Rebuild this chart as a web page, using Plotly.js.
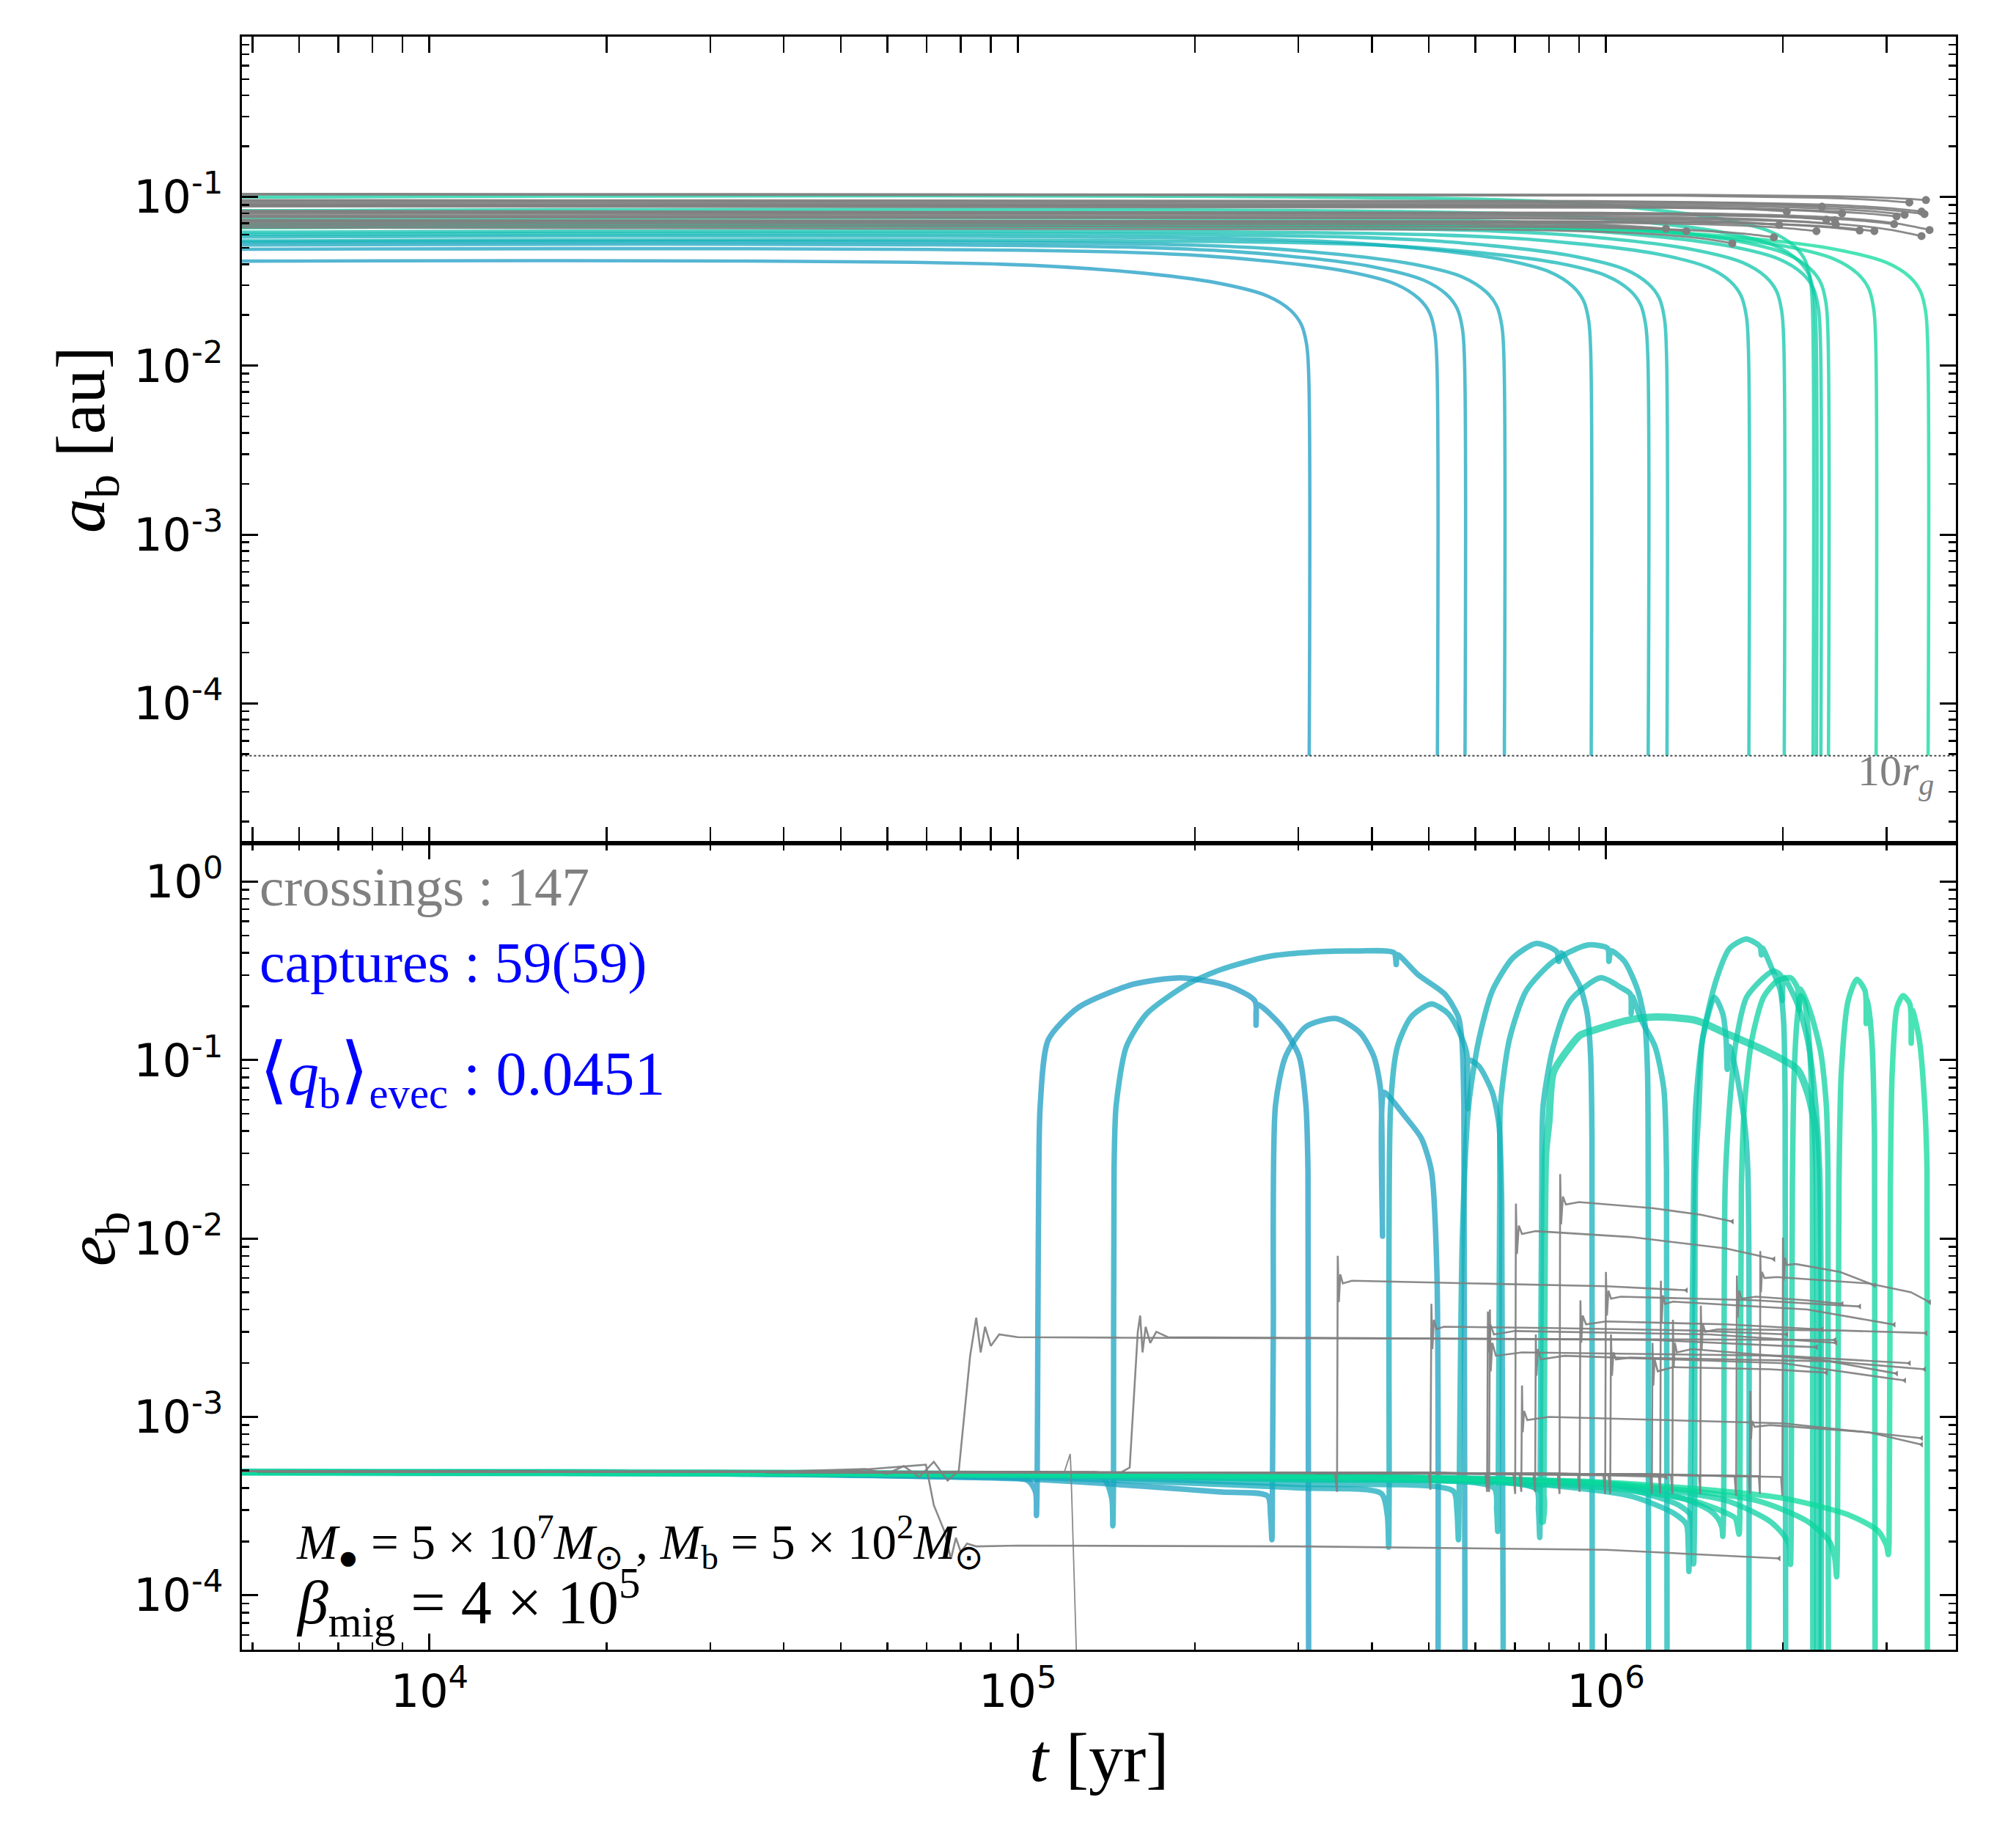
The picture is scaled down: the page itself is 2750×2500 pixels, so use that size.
<!DOCTYPE html>
<html><head><meta charset="utf-8">
<script src="https://cdn.plot.ly/plotly-3.0.1.min.js"></script>
<style>body{margin:0;background:#fff}</style>
</head><body>
<div id="chart" style="width:2750px;height:2500px"></div>
<script>
// ---------- tick labels ----------
const xTickVals = [1e4, 1e5, 1e6];
const xTickText = ['10<sup>4</sup>', '10<sup>5</sup>', '10<sup>6</sup>'];
const yTopTickVals = [1e-4, 1e-3, 1e-2, 1e-1];
const yTopTickText = ['10<sup>-4</sup>', '10<sup>-3</sup>', '10<sup>-2</sup>', '10<sup>-1</sup>'];
const yBotTickVals = [1e-4, 1e-3, 1e-2, 1e-1, 1];
const yBotTickText = ['10<sup>-4</sup>', '10<sup>-3</sup>', '10<sup>-2</sup>', '10<sup>-1</sup>', '10<sup>0</sup>'];

// ---------- captured binaries (teal): top panel a_b(t) ----------
const tA01 = [4800, 9.39e4, 1.565e5, 2.191e5, 2.66e5, 2.911e5, 3.036e5, 3.099e5, 3.124e5, 3.13e5];
const aA01 = [0.0417, 0.0400, 0.0359, 0.0309, 0.0259, 0.0213, 0.0175, 0.0133, 0.0088, 4.9e-5];
const tA02 = [4800, 1.551e5, 2.585e5, 3.619e5, 4.395e5, 4.808e5, 5.015e5, 5.118e5, 5.16e5, 5.17e5];
const aA02 = [0.049, 0.0470, 0.0421, 0.0363, 0.0304, 0.0250, 0.0206, 0.0157, 0.0103, 4.9e-5];
const tA03 = [4800, 1.728e5, 2.88e5, 4.032e5, 4.896e5, 5.357e5, 5.587e5, 5.702e5, 5.748e5, 5.76e5];
const aA03 = [0.052, 0.0499, 0.0447, 0.0385, 0.0322, 0.0265, 0.0218, 0.0166, 0.0109, 4.9e-5];
const tA04 = [4800, 2.016e5, 3.36e5, 4.704e5, 5.712e5, 6.25e5, 6.518e5, 6.653e5, 6.707e5, 6.72e5];
const aA04 = [0.054, 0.0518, 0.0464, 0.0400, 0.0335, 0.0275, 0.0227, 0.0173, 0.0113, 4.9e-5];
const tA05 = [4800, 2.832e5, 4.72e5, 6.608e5, 8.024e5, 8.779e5, 9.157e5, 9.346e5, 9.421e5, 9.44e5];
const aA05 = [0.058, 0.0557, 0.0499, 0.0429, 0.0360, 0.0296, 0.0244, 0.0186, 0.0122, 4.9e-5];
const tA06 = [4800, 3.54e5, 5.9e5, 8.26e5, 1.003e6, 1.097e6, 1.145e6, 1.168e6, 1.178e6, 1.18e6];
const aA06 = [0.055, 0.0528, 0.0473, 0.0407, 0.0341, 0.0281, 0.0231, 0.0176, 0.0116, 4.9e-5];
const tA07 = [4800, 3.81e5, 6.35e5, 8.89e5, 1.0795e6, 1.181e6, 1.232e6, 1.257e6, 1.267e6, 1.27e6];
const aA07 = [0.060, 0.0576, 0.0516, 0.0444, 0.0372, 0.0306, 0.0252, 0.0192, 0.0126, 4.9e-5];
const tA08 = [4800, 5.25e5, 8.75e5, 1.225e6, 1.4875e6, 1.6275e6, 1.6975e6, 1.7325e6, 1.7465e6, 1.75e6];
const aA08 = [0.062, 0.0595, 0.0533, 0.0459, 0.0384, 0.0316, 0.0260, 0.0198, 0.0130, 4.9e-5];
const tA09 = [4800, 6.03e5, 1.005e6, 1.407e6, 1.7085e6, 1.869e6, 1.95e6, 1.99e6, 2.006e6, 2.01e6];
const aA09 = [0.066, 0.0634, 0.0568, 0.0488, 0.0409, 0.0337, 0.0277, 0.0211, 0.0139, 4.9e-5];
const tA10 = [4800, 6.75e5, 1.125e6, 1.575e6, 1.9125e6, 2.0925e6, 2.1825e6, 2.2275e6, 2.2455e6, 2.25e6];
const aA10 = [0.100, 0.096, 0.086, 0.074, 0.062, 0.051, 0.042, 0.032, 0.021, 4.9e-5];
const tA11 = [4800, 6.84e5, 1.14e6, 1.596e6, 1.938e6, 2.12e6, 2.212e6, 2.257e6, 2.275e6, 2.28e6];
const aA11 = [0.083, 0.0797, 0.0714, 0.0614, 0.0515, 0.0423, 0.0349, 0.0266, 0.0174, 4.9e-5];
const tA12 = [4800, 6.96e5, 1.16e6, 1.624e6, 1.972e6, 2.158e6, 2.25e6, 2.297e6, 2.315e6, 2.32e6];
const aA12 = [0.069, 0.0662, 0.0593, 0.0511, 0.0428, 0.0352, 0.0290, 0.0221, 0.0145, 4.9e-5];
const tA13 = [4800, 7.17e5, 1.195e6, 1.673e6, 2.0315e6, 2.223e6, 2.318e6, 2.366e6, 2.385e6, 2.39e6];
const aA13 = [0.074, 0.0710, 0.0636, 0.0548, 0.0459, 0.0377, 0.0311, 0.0237, 0.0155, 4.9e-5];
const tA14 = [4800, 8.64e5, 1.44e6, 2.016e6, 2.448e6, 2.678e6, 2.794e6, 2.851e6, 2.874e6, 2.88e6];
const aA14 = [0.069, 0.0662, 0.0593, 0.0511, 0.0428, 0.0352, 0.0290, 0.0221, 0.0145, 4.9e-5];
const tA15 = [4800, 1.059e6, 1.765e6, 2.471e6, 3.0005e6, 3.283e6, 3.424e6, 3.495e6, 3.523e6, 3.53e6];
const aA15 = [0.066, 0.0634, 0.0568, 0.0488, 0.0409, 0.0337, 0.0277, 0.0211, 0.0139, 4.9e-5];

// ---------- captured binaries (teal): bottom panel e_b(t) ----------
const tE01 = [4800, 3e4, 8e4, 1.04e5, 1.072e5, 1.076e5, 1.079e5, 1.082e5, 1.086e5, 1.092e5, 1.127e5, 1.27e5, 1.571e5, 1.892e5, 2.278e5, 2.53e5, 2.542e5, 2.555e5, 2.816e5, 3.009e5, 3.09e5, 3.115e5, 3.125e5];
const eE01 = [4.9e-4, 4.85e-4, 4.6e-4, 4.4e-4, 3.8e-4, 2.8e-4, 4.4e-4, 0.003, 0.024, 0.0557, 0.130, 0.198, 0.266, 0.289, 0.261, 0.215, 0.157, 0.205, 0.1536, 0.105, 0.0557, 0.024, 1e-5];
const tE02 = [4800, 3e4, 1e5, 2.2e5, 2.66e5, 2.69e5, 2.705e5, 2.71e5, 2.72e5, 2.743e5, 2.854e5, 3.09e5, 3.482e5, 3.822e5, 4.03e5, 4.138e5, 4.171e5, 4.193e5, 4.305e5, 4.54e5, 4.852e5, 5.05e5, 5.158e5, 5.18e5];
const eE02 = [4.9e-4, 4.8e-4, 4.5e-4, 3.8e-4, 3.6e-4, 2.8e-4, 2.05e-4, 3.6e-4, 0.003, 0.0557, 0.105, 0.154, 0.171, 0.142, 0.105, 0.069, 0.0103, 0.066, 0.061, 0.049, 0.0366, 0.024, 0.0068, 1e-5];
const tE03 = [4800, 3e4, 1e5, 1.4e5, 1.445e5, 1.451e5, 1.455e5, 1.458e5, 1.47e5, 1.53e5, 1.657e5, 1.943e5, 2.218e5, 2.671e5, 3.302e5, 3.771e5, 4.363e5, 4.4e5, 4.421e5, 4.788e5, 5.325e5, 5.613e5, 5.689e5, 5.735e5, 5.766e5];
const eE03 = [4.9e-4, 4.85e-4, 4.7e-4, 4.5e-4, 3.5e-4, 2.45e-4, 4.5e-4, 0.024, 0.0557, 0.119, 0.182, 0.266, 0.322, 0.381, 0.406, 0.409, 0.40, 0.343, 0.39, 0.302, 0.234, 0.174, 0.13, 0.0557, 1e-5];
const tE04 = [4800, 3e4, 1e5, 3e5, 4.15e5, 4.25e5, 4.272e5, 4.28e5, 4.305e5, 4.421e5, 4.663e5, 5.05e5, 5.395e5, 5.613e5, 5.797e5, 5.82e5, 5.843e5, 6.079e5, 6.41e5, 6.58e5, 6.65e5, 6.7e5];
const eE04 = [4.9e-4, 4.8e-4, 4.6e-4, 4.0e-4, 3.72e-4, 2.8e-4, 1.86e-4, 3.7e-4, 0.0557, 0.119, 0.1744, 0.2065, 0.182, 0.147, 0.1096, 0.0535, 0.1, 0.0926, 0.066, 0.0433, 0.0157, 1e-5];
const tE05 = [4800, 3e4, 1e5, 3e5, 5.5e5, 5.58e5, 5.613e5, 5.63e5, 5.7e5, 5.843e5, 6.079e5, 6.41e5, 6.942e5, 7.616e5, 8.248e5, 8.314e5, 8.4e5, 8.696e5, 9.05e5, 9.294e5, 9.419e5, 9.469e5, 9.48e5];
const eE05 = [4.9e-4, 4.85e-4, 4.7e-4, 4.2e-4, 3.84e-4, 3.0e-4, 2.05e-4, 3.8e-4, 0.01, 0.0558, 0.1297, 0.2445, 0.373, 0.4511, 0.4059, 0.3576, 0.40, 0.3287, 0.255, 0.182, 0.1051, 0.0366, 1e-5];
const tE06 = [4800, 3e4, 1e5, 3e5, 6.45e5, 6.52e5, 6.548e5, 6.56e5, 6.6e5, 6.618e5, 6.851e5, 7.318e5, 8.139e5, 9.294e5, 1.0065e6, 1.0118e6, 1.02e6, 1.0755e6, 1.1337e6, 1.1648e6, 1.177e6, 1.18e6, 1.182e6];
const eE06 = [4.9e-4, 4.85e-4, 4.75e-4, 4.45e-4, 4.0e-4, 3.0e-4, 2.28e-4, 4.0e-4, 0.02, 0.0558, 0.1297, 0.2445, 0.3576, 0.4416, 0.4231, 0.3576, 0.41, 0.3576, 0.2445, 0.1603, 0.0851, 0.024, 1e-5];
const tE07 = [4800, 3e4, 1e5, 3e5, 7.6e5, 7.68e5, 7.718e5, 7.73e5, 7.78e5, 7.821e5, 8.139e5, 8.696e5, 9.8e5, 1.061e6, 1.1e6, 1.104e6, 1.108e6, 1.1489e6, 1.2118e6, 1.2544e6, 1.2677e6, 1.271e6];
const eE07 = [4.9e-4, 4.85e-4, 4.75e-4, 4.5e-4, 3.96e-4, 3.0e-4, 2.11e-4, 3.9e-4, 0.02, 0.0558, 0.1193, 0.2154, 0.2894, 0.255, 0.235, 0.182, 0.228, 0.1672, 0.1193, 0.0689, 0.024, 1e-5];
const tE08 = [4800, 3e4, 1e5, 3e5, 7e5, 1.1e6, 1.3e6, 1.37e6, 1.38e6, 1.384e6, 1.39e6, 1.41e6, 1.421e6, 1.459e6, 1.53e6, 1.58e6, 1.601e6, 1.608e6, 1.623e6, 1.666e6, 1.72e6, 1.743e6, 1.748e6];
const eE08 = [4.9e-4, 4.85e-4, 4.75e-4, 4.6e-4, 4.3e-4, 3.6e-4, 2.9e-4, 2.5e-4, 1.9e-4, 1.36e-4, 2.8e-4, 0.02, 0.0558, 0.1297, 0.2247, 0.182, 0.1297, 0.0887, 0.1193, 0.0851, 0.0452, 0.024, 1e-5];
const tE09 = [4800, 3e4, 1e5, 3e5, 7e5, 1.1e6, 1.33e6, 1.395e6, 1.405e6, 1.41e6, 1.415e6, 1.421e6, 1.44e6, 1.459e6, 1.538e6, 1.623e6, 1.734e6, 1.828e6, 1.838e6, 1.845e6, 1.913e6, 1.98e6, 2.006e6, 2.017e6, 2.022e6];
const eE09 = [4.9e-4, 4.85e-4, 4.75e-4, 4.65e-4, 4.45e-4, 3.9e-4, 3.2e-4, 2.8e-4, 2.1e-4, 1.5e-4, 2.9e-4, 0.024, 0.0558, 0.1297, 0.2775, 0.4231, 0.4766, 0.4324, 0.389, 0.425, 0.3287, 0.2445, 0.1603, 0.0558, 1e-5];
const tE10 = [4800, 3e4, 1e5, 3e5, 1e6, 1.6e6, 1.9e6, 2.0e6, 2.05e6, 2.06e6, 2.065e6, 2.075e6, 2.09e6, 2.116e6, 2.144e6, 2.173e6, 2.202e6, 2.231e6, 2.245e6, 2.249e6];
const eE10 = [4.9e-4, 4.85e-4, 4.75e-4, 4.6e-4, 4.2e-4, 3.4e-4, 2.6e-4, 2.2e-4, 1.9e-4, 1.49e-4, 2.2e-4, 0.02, 0.0851, 0.1744, 0.2295, 0.2154, 0.1603, 0.0851, 0.024, 1e-5];
const tE11 = [4800, 3e4, 1e5, 3e5, 7.75e5, 7.8e5, 7.82e5, 7.85e5, 7.9e5, 8.0e5, 8.139e5, 8.696e5, 9.05e5, 9.544e5, 1.0897e6, 1.2118e6, 1.421e6, 1.623e6, 1.853e6, 2.116e6, 2.202e6, 2.261e6, 2.285e6, 2.291e6];
const eE11 = [4.9e-4, 4.85e-4, 4.75e-4, 4.5e-4, 3.9e-4, 2.6e-4, 3.9e-4, 0.005, 0.03, 0.0452, 0.0851, 0.1193, 0.1382, 0.1473, 0.1672, 0.1744, 0.1672, 0.1382, 0.1143, 0.0887, 0.066, 0.0452, 0.024, 1e-5];
const tE12 = [4800, 3e4, 1e5, 3e5, 1e6, 1.35e6, 1.5e6, 1.55e6, 1.575e6, 1.58e6, 1.585e6, 1.595e6, 1.623e6, 1.666e6, 1.734e6, 1.853e6, 1.928e6, 1.98e6, 1.995e6, 2.006e6, 2.116e6, 2.202e6, 2.261e6, 2.309e6, 2.321e6];
const eE12 = [4.9e-4, 4.85e-4, 4.75e-4, 4.65e-4, 4.2e-4, 3.5e-4, 3.0e-4, 2.7e-4, 2.4e-4, 2.14e-4, 2.8e-4, 0.02, 0.0558, 0.1297, 0.2247, 0.2894, 0.315, 0.30, 0.2154, 0.29, 0.2065, 0.1297, 0.0689, 0.024, 1e-5];
const tE13 = [4800, 3e4, 1e5, 3e5, 1e6, 1.4e6, 1.6e6, 1.66e6, 1.684e6, 1.689e6, 1.7e6, 1.72e6, 1.77e6, 1.853e6, 1.954e6, 2.06e6, 2.116e6, 2.13e6, 2.144e6, 2.231e6, 2.32e6, 2.37e6, 2.385e6, 2.39e6];
const eE13 = [4.9e-4, 4.85e-4, 4.75e-4, 4.6e-4, 4.0e-4, 3.4e-4, 2.9e-4, 2.7e-4, 2.2e-4, 2.7e-4, 0.02, 0.0558, 0.1297, 0.2247, 0.2775, 0.2894, 0.255, 0.19, 0.25, 0.182, 0.1096, 0.0558, 0.024, 1e-5];
const tE14 = [4800, 3e4, 1e5, 3e5, 1e6, 1.8e6, 2.2e6, 2.4e6, 2.45e6, 2.467e6, 2.475e6, 2.49e6, 2.513e6, 2.581e6, 2.671e6, 2.758e6, 2.77e6, 2.785e6, 2.832e6, 2.862e6, 2.87e6];
const eE14 = [4.9e-4, 4.85e-4, 4.75e-4, 4.65e-4, 4.25e-4, 3.4e-4, 2.6e-4, 2.0e-4, 1.6e-4, 1.27e-4, 1.9e-4, 0.02, 0.085, 0.2154, 0.2835, 0.2445, 0.1603, 0.22, 0.1297, 0.0366, 1e-5];
const tE15 = [4800, 3e4, 1e5, 3e5, 1e6, 2e6, 2.6e6, 2.9e6, 3.0e6, 3.02e6, 3.03e6, 3.045e6, 3.067e6, 3.125e6, 3.2e6, 3.286e6, 3.304e6, 3.32e6, 3.411e6, 3.484e6, 3.515e6, 3.521e6];
const eE15 = [4.9e-4, 4.85e-4, 4.75e-4, 4.65e-4, 4.3e-4, 3.5e-4, 2.8e-4, 2.3e-4, 1.9e-4, 1.69e-4, 2.0e-4, 0.02, 0.0851, 0.198, 0.2295, 0.2065, 0.1244, 0.19, 0.1297, 0.0558, 0.024, 1e-5];

const tealColors = [
  'rgba(25,155,195,0.74)', 'rgba(24,160,193,0.74)', 'rgba(22,165,190,0.74)', 'rgba(20,170,188,0.74)',
  'rgba(18,176,185,0.74)', 'rgba(16,181,182,0.74)', 'rgba(15,185,180,0.74)', 'rgba(14,192,175,0.74)',
  'rgba(12,197,170,0.74)', 'rgba(10,208,162,0.74)', 'rgba(11,205,164,0.74)', 'rgba(11,203,166,0.74)',
  'rgba(10,209,161,0.74)', 'rgba(10,212,158,0.74)', 'rgba(10,218,155,0.74)'
];

// ---------- non-captured crossings (gray): top panel a_b(t) ----------
const gtA01 = [4800, 5.06e5, 8.86e5, 1.113e6, 1.265e6]; const gaA01 = [0.072, 0.0709, 0.0692, 0.0670, 0.0649];
const gtA02 = [4800, 5.48e5, 9.59e5, 1.206e6, 1.37e6];  const gaA02 = [0.070, 0.0689, 0.0671, 0.0650, 0.0628];
const gtA03 = [4800, 6.56e5, 1.148e6, 1.443e6, 1.64e6]; const gaA03 = [0.066, 0.0641, 0.0608, 0.0570, 0.0531];
const gtA04 = [4800, 7.72e5, 1.351e6, 1.698e6, 1.93e6]; const gaA04 = [0.068, 0.0665, 0.0639, 0.0609, 0.0578];
const gtA05 = [4800, 7.88e5, 1.379e6, 1.734e6, 1.97e6]; const gaA05 = [0.076, 0.0748, 0.0729, 0.0706, 0.0683];
const gtA06 = [4800, 8.12e5, 1.421e6, 1.786e6, 2.03e6]; const gaA06 = [0.090, 0.0888, 0.0868, 0.0844, 0.082];
const gtA07 = [4800, 9.12e5, 1.596e6, 2.006e6, 2.28e6]; const gaA07 = [0.072, 0.0706, 0.0683, 0.0656, 0.0628];
const gtA08 = [4800, 9.32e5, 1.631e6, 2.05e6, 2.33e6];  const gaA08 = [0.096, 0.0948, 0.0927, 0.0902, 0.0877];
const gtA09 = [4800, 9.48e5, 1.659e6, 2.086e6, 2.37e6]; const gaA09 = [0.081, 0.0799, 0.078, 0.0758, 0.0735];
const gtA10 = [4800, 9.8e5, 1.715e6, 2.156e6, 2.45e6];  const gaA10 = [0.082, 0.0807, 0.0784, 0.0757, 0.073];
const gtA11 = [4800, 9.84e5, 1.722e6, 2.165e6, 2.46e6]; const gaA11 = [0.078, 0.0766, 0.0743, 0.0715, 0.0687];
const gtA12 = [4800, 1.008e6, 1.764e6, 2.218e6, 2.52e6]; const gaA12 = [0.089, 0.0877, 0.0854, 0.0827, 0.080];
const gtA13 = [4800, 1.08e6, 1.89e6, 2.376e6, 2.70e6];  const gaA13 = [0.073, 0.0716, 0.0692, 0.0663, 0.0634];
const gtA14 = [4800, 1.144e6, 2.002e6, 2.517e6, 2.86e6]; const gaA14 = [0.073, 0.0715, 0.0689, 0.0659, 0.0628];
const gtA15 = [4800, 1.236e6, 2.163e6, 2.719e6, 3.09e6]; const gaA15 = [0.080, 0.0784, 0.0757, 0.0724, 0.0692];
const gtA16 = [4800, 1.248e6, 2.184e6, 2.746e6, 3.12e6]; const gaA16 = [0.088, 0.0863, 0.0835, 0.0801, 0.0767];
const gtA17 = [4800, 1.288e6, 2.254e6, 2.834e6, 3.22e6]; const gaA17 = [0.091, 0.0891, 0.086, 0.0823, 0.0785];
const gtA18 = [4800, 1.312e6, 2.296e6, 2.886e6, 3.28e6]; const gaA18 = [0.1035, 0.1019, 0.0992, 0.096, 0.0928];
const gtA19 = [4800, 1.376e6, 2.408e6, 3.027e6, 3.44e6]; const gaA19 = [0.095, 0.093, 0.0898, 0.0859, 0.082];
const gtA20 = [4800, 1.392e6, 2.436e6, 3.062e6, 3.48e6]; const gaA20 = [0.093, 0.0909, 0.0875, 0.0834, 0.0793];
const gtA21 = [4800, 1.4e6, 2.45e6, 3.08e6, 3.50e6];    const gaA21 = [0.1045, 0.1032, 0.1011, 0.0986, 0.096];
const gtA22 = [4800, 1.376e6, 2.408e6, 3.027e6, 3.44e6]; const gaA22 = [0.077, 0.0743, 0.0697, 0.0642, 0.0587];
const gtA23 = [4800, 1.42e6, 2.485e6, 3.124e6, 3.55e6]; const gaA23 = [0.083, 0.0801, 0.0753, 0.0696, 0.0638];

// ---------- non-captured crossings (gray): bottom panel e_b(t) ----------
const gtE01 = [4800, 1e5, 5e5, 1e6, 1.265e6];
const geE01 = [4.95e-4, 4.9e-4, 4.8e-4, 4.7e-4, 4.6e-4];
const gtE02 = [4800, 1e5, 3.46e5, 3.49e5, 3.5e5, 3.515e5, 3.535e5, 3.57e5, 3.7e5, 6e5, 1e6, 1.37e6];
const geE02 = [4.95e-4, 4.9e-4, 4.85e-4, 3.8e-4, 0.008, 0.0044, 0.0063, 0.0056, 0.0058, 0.0056, 0.0054, 0.00513];
const gtE03 = [4800, 1e5, 5e5, 8.28e5, 8.34e5, 8.36e5, 8.39e5, 8.45e5, 8.55e5, 9e5, 1.2e6, 1.45e6, 1.64e6];
const geE03 = [4.95e-4, 4.9e-4, 4.85e-4, 4.8e-4, 3.7e-4, 0.023, 0.012, 0.0172, 0.0155, 0.016, 0.0148, 0.0136, 0.01245];
const gtE04 = [4800, 1e5, 5e5, 6.96e5, 7.01e5, 7.03e5, 7.06e5, 7.11e5, 7.2e5, 7.6e5, 1.1e6, 1.6e6, 1.93e6];
const geE04 = [4.95e-4, 4.9e-4, 4.85e-4, 4.8e-4, 3.7e-4, 0.0157, 0.0082, 0.0118, 0.0106, 0.011, 0.0102, 0.0088, 0.00766];
const gtE05 = [4800, 5e4, 6.98e4, 7.2e4, 7.5e4, 7.7e4, 7.85e4, 8e4, 8.2e4, 8.5e4, 1e5, 3e5, 1e6, 1.97e6];
const geE05 = [4.95e-4, 4.95e-4, 5.4e-4, 3.2e-4, 2.3e-4, 1.6e-4, 2.1e-4, 1.75e-4, 1.95e-4, 1.88e-4, 1.9e-4, 1.88e-4, 1.8e-4, 1.61e-4];
const gtE06 = [4800, 1e5, 5e5, 5.03e5, 5.05e5, 5.07e5, 5.1e5, 5.15e5, 5.3e5, 8e5, 1.4e6, 2.03e6];
const geE06 = [4.95e-4, 4.9e-4, 4.85e-4, 3.9e-4, 0.0043, 0.0024, 0.0035, 0.0031, 0.0032, 0.00315, 0.00305, 0.0029];
const gtE07 = [4800, 1e5, 1.5e5, 1.55e5, 1.575e5, 1.6e5, 1.615e5, 1.63e5, 1.65e5, 1.68e5, 1.72e5, 1.8e5, 5e5, 1.2e6, 2e6, 2.28e6];
const geE07 = [4.95e-4, 4.9e-4, 4.9e-4, 5.2e-4, 0.0012, 0.003, 0.0037, 0.0023, 0.0032, 0.0026, 0.003, 0.0028, 0.00275, 0.0027, 0.0025, 0.00246];
const gtE08 = [4800, 1e5, 5e5, 8.96e5, 9.02e5, 9.05e5, 9.08e5, 9.13e5, 9.25e5, 1e6, 1.6e6, 2.33e6];
const geE08 = [4.95e-4, 4.9e-4, 4.85e-4, 4.8e-4, 3.8e-4, 0.0045, 0.0026, 0.0037, 0.0033, 0.00343, 0.0033, 0.00309];
const gtE09 = [4800, 1e5, 5e5, 1.19e6, 1.197e6, 1.2e6, 1.204e6, 1.21e6, 1.225e6, 1.3e6, 1.9e6, 2.37e6];
const geE09 = [4.95e-4, 4.9e-4, 4.85e-4, 4.75e-4, 3.7e-4, 0.0026, 0.0015, 0.0021, 0.0018, 0.0019, 0.00185, 0.00177];
const gtE10 = [4800, 4e4, 5.5e4, 6e4, 6.4e4, 6.8e4, 7.2e4, 7.6e4, 7.94e4, 8.1e4, 8.3e4, 8.5e4, 8.65e4, 8.8e4, 9e4, 9.3e4, 1e5, 1.5e5, 5e5, 1.5e6, 2.45e6];
const geE10 = [4.95e-4, 4.95e-4, 5.1e-4, 4.8e-4, 5.3e-4, 4.6e-4, 5.6e-4, 4.4e-4, 5e-4, 0.001, 0.0022, 0.0036, 0.0023, 0.0032, 0.0025, 0.0029, 0.0028, 0.00278, 0.00275, 0.00272, 0.0027];
const gtE11 = [4800, 1e5, 5e5, 6.24e5, 6.28e5, 6.3e5, 6.32e5, 6.36e5, 6.45e5, 7e5, 1.5e6, 2.46e6];
const geE11 = [4.95e-4, 4.9e-4, 4.85e-4, 4.8e-4, 3.8e-4, 0.0039, 0.0023, 0.0033, 0.0029, 0.00303, 0.0029, 0.0026];
const gtE12 = [4800, 1e5, 5e5, 1.2e6, 1.655e6, 1.665e6, 1.67e6, 1.675e6, 1.685e6, 1.7e6, 1.8e6, 2.2e6, 2.52e6];
const geE12 = [4.95e-4, 4.9e-4, 4.85e-4, 4.75e-4, 4.65e-4, 3.6e-4, 0.0062, 0.0036, 0.0051, 0.0046, 0.00472, 0.0045, 0.0043];
const gtE13 = [4800, 1e5, 5e5, 9.9e5, 9.97e5, 1e6, 1.004e6, 1.01e6, 1.02e6, 1.06e6, 1.8e6, 2.7e6];
const geE13 = [4.95e-4, 4.9e-4, 4.85e-4, 4.75e-4, 3.7e-4, 0.0065, 0.0037, 0.0051, 0.0046, 0.00472, 0.0045, 0.00416];
const gtE14 = [4800, 1e5, 5e5, 1.2e6, 1.985e6, 1.995e6, 2.0e6, 2.006e6, 2.015e6, 2.03e6, 2.1e6, 2.5e6, 2.86e6];
const geE14 = [4.95e-4, 4.9e-4, 4.85e-4, 4.75e-4, 4.6e-4, 3.6e-4, 0.0101, 0.0058, 0.0078, 0.0071, 0.0072, 0.0065, 0.00547];
const gtE15 = [4800, 1e5, 5e5, 1.23e6, 1.237e6, 1.24e6, 1.244e6, 1.25e6, 1.26e6, 1.3e6, 2.2e6, 3.09e6];
const geE15 = [4.95e-4, 4.9e-4, 4.85e-4, 4.75e-4, 3.7e-4, 0.0058, 0.0034, 0.0048, 0.0043, 0.00443, 0.0040, 0.00329];
const gtE16 = [4800, 1e5, 5e5, 1.29e6, 1.297e6, 1.3e6, 1.304e6, 1.31e6, 1.32e6, 1.4e6, 2.3e6, 3.12e6];
const geE16 = [4.95e-4, 4.9e-4, 4.85e-4, 4.75e-4, 3.7e-4, 0.0035, 0.0019, 0.0026, 0.0023, 0.0024, 0.0021, 0.00175];
const gtE17 = [4800, 1e5, 5e5, 7.53e5, 7.58e5, 7.6e5, 7.62e5, 7.66e5, 7.75e5, 8.5e5, 2e6, 3.22e6];
const geE17 = [4.95e-4, 4.9e-4, 4.85e-4, 4.8e-4, 3.8e-4, 0.0029, 0.0017, 0.0024, 0.0021, 0.0022, 0.002, 0.0016];
const gtE18 = [4800, 1e5, 5e5, 6.29e5, 6.33e5, 6.35e5, 6.37e5, 6.41e5, 6.5e5, 7.2e5, 2e6, 3.28e6];
const geE18 = [4.95e-4, 4.9e-4, 4.85e-4, 4.8e-4, 3.8e-4, 0.004, 0.0018, 0.0026, 0.0022, 0.0023, 0.0022, 0.002];
const gtE19 = [4800, 1e5, 5e5, 7.13e5, 7.18e5, 7.2e5, 7.22e5, 7.26e5, 7.35e5, 8e5, 2e6, 3.44e6];
const geE19 = [4.95e-4, 4.9e-4, 4.85e-4, 4.8e-4, 3.8e-4, 0.0015, 8.2e-4, 0.00108, 9.6e-4, 0.001, 9.2e-4, 7.6e-4];
const gtE20 = [4800, 1e5, 5e5, 1.01e6, 1.017e6, 1.02e6, 1.024e6, 1.03e6, 1.04e6, 1.1e6, 2.4e6, 3.48e6];
const geE20 = [4.95e-4, 4.9e-4, 4.85e-4, 4.75e-4, 3.7e-4, 0.0029, 0.0017, 0.0023, 0.0021, 0.00215, 0.00205, 0.00185];
const gtE21 = [4800, 1e5, 5e5, 1.44e6, 1.447e6, 1.45e6, 1.455e6, 1.462e6, 1.475e6, 1.55e6, 2.5e6, 3.5e6];
const geE21 = [4.95e-4, 4.9e-4, 4.85e-4, 4.7e-4, 3.7e-4, 0.0042, 0.0024, 0.0033, 0.003, 0.0031, 0.00305, 0.00295];
const gtE22 = [4800, 1e5, 5e5, 1.2e6, 1.75e6, 1.757e6, 1.76e6, 1.765e6, 1.772e6, 1.79e6, 1.9e6, 2.8e6, 3.44e6];
const geE22 = [4.95e-4, 4.9e-4, 4.85e-4, 4.75e-4, 4.65e-4, 3.7e-4, 0.0014, 7.5e-4, 9.5e-4, 8.8e-4, 9e-4, 8.2e-4, 7.0e-4];
const gtE23 = [4800, 1e5, 5e5, 1.2e6, 1.82e6, 1.827e6, 1.83e6, 1.835e6, 1.842e6, 1.86e6, 1.95e6, 2.8e6, 3.3e6, 3.55e6];
const geE23 = [4.95e-4, 4.9e-4, 4.85e-4, 4.75e-4, 4.65e-4, 3.7e-4, 0.0085, 0.005, 0.0065, 0.006, 0.00608, 0.0056, 0.005, 0.0044];
// one crossing whose eccentricity collapses
const gtPlunge = [4800, 1e5, 1.2e5, 1.228e5, 1.232e5, 1.276e5];
const gePlunge = [4.95e-4, 4.9e-4, 4.9e-4, 6.2e-4, 4.9e-4, 1e-5];

// 10 r_g reference level
const rgLevelT = [3000, 5e6];
const rgLevelA = [4.9e-5, 4.9e-5];

// ---------- build traces ----------
const tealTop = [[tA01,aA01],[tA02,aA02],[tA03,aA03],[tA04,aA04],[tA05,aA05],[tA06,aA06],[tA07,aA07],[tA08,aA08],[tA09,aA09],[tA10,aA10],[tA11,aA11],[tA12,aA12],[tA13,aA13],[tA14,aA14],[tA15,aA15]];
const tealBot = [[tE01,eE01],[tE02,eE02],[tE03,eE03],[tE04,eE04],[tE05,eE05],[tE06,eE06],[tE07,eE07],[tE08,eE08],[tE09,eE09],[tE10,eE10],[tE11,eE11],[tE12,eE12],[tE13,eE13],[tE14,eE14],[tE15,eE15]];
const grayTop = [[gtA01,gaA01],[gtA02,gaA02],[gtA03,gaA03],[gtA04,gaA04],[gtA05,gaA05],[gtA06,gaA06],[gtA07,gaA07],[gtA08,gaA08],[gtA09,gaA09],[gtA10,gaA10],[gtA11,gaA11],[gtA12,gaA12],[gtA13,gaA13],[gtA14,gaA14],[gtA15,gaA15],[gtA16,gaA16],[gtA17,gaA17],[gtA18,gaA18],[gtA19,gaA19],[gtA20,gaA20],[gtA21,gaA21],[gtA22,gaA22],[gtA23,gaA23]];
const grayBot = [[gtE01,geE01],[gtE02,geE02],[gtE03,geE03],[gtE04,geE04],[gtE05,geE05],[gtE06,geE06],[gtE07,geE07],[gtE08,geE08],[gtE09,geE09],[gtE10,geE10],[gtE11,geE11],[gtE12,geE12],[gtE13,geE13],[gtE14,geE14],[gtE15,geE15],[gtE16,geE16],[gtE17,geE17],[gtE18,geE18],[gtE19,geE19],[gtE20,geE20],[gtE21,geE21],[gtE22,geE22],[gtE23,geE23]];

const GRAY = 'rgba(128,128,128,0.92)';
const traces = [];
tealTop.forEach((c, i) => traces.push({x: c[0], y: c[1], xaxis: 'x', yaxis: 'y', mode: 'lines',
  line: {color: tealColors[i], width: 4.6, shape: 'spline', smoothing: 1}, hoverinfo: 'skip'}));
tealBot.forEach((c, i) => traces.push({x: c[0], y: c[1], xaxis: 'x', yaxis: 'y2', mode: 'lines',
  line: {color: tealColors[i], width: (i === 10 ? 10 : 7.5), shape: 'spline', smoothing: 0.7}, hoverinfo: 'skip'}));
grayTop.forEach(c => traces.push({x: c[0], y: c[1], xaxis: 'x', yaxis: 'y', mode: 'lines',
  line: {color: GRAY, width: 2.8, shape: 'spline', smoothing: 0.8}, hoverinfo: 'skip'}));
traces.push({x: grayTop.map(c => c[0][c[0].length - 1]), y: grayTop.map(c => c[1][c[1].length - 1]),
  xaxis: 'x', yaxis: 'y', mode: 'markers', marker: {color: 'rgb(128,128,128)', size: 11}, hoverinfo: 'skip'});
grayBot.forEach(c => traces.push({x: c[0], y: c[1], xaxis: 'x', yaxis: 'y2', mode: 'lines',
  line: {color: GRAY, width: 2.6}, hoverinfo: 'skip'}));
traces.push({x: gtPlunge, y: gePlunge, xaxis: 'x', yaxis: 'y2', mode: 'lines',
  line: {color: GRAY, width: 1.8}, hoverinfo: 'skip'});
traces.push({x: grayBot.map(c => c[0][c[0].length - 1]), y: grayBot.map(c => c[1][c[1].length - 1]),
  xaxis: 'x', yaxis: 'y2', mode: 'markers', marker: {color: 'rgb(128,128,128)', size: 7, symbol: 'triangle-left'}, hoverinfo: 'skip'});
traces.push({x: rgLevelT, y: rgLevelA, xaxis: 'x', yaxis: 'y', mode: 'lines',
  line: {color: '#444', width: 2, dash: 'dot'}, hoverinfo: 'skip'});

// minor tick positions (2..9 in each decade)
function minorTicks(lo, hi) { const v = []; for (let p = lo; p <= hi; p++) for (let m = 2; m <= 9; m++) v.push(m * Math.pow(10, p)); return v; }

const tickFont = {family: 'DejaVu Sans', size: 62, color: '#000'};
const common = {
  type: 'log', showgrid: false, zeroline: false, showline: true, linecolor: '#000', linewidth: 3.3,
  ticks: 'inside', ticklen: 22, tickwidth: 3, tickcolor: '#000', tickfont: tickFont,
};
const layout = {
  width: 2750, height: 2500, paper_bgcolor: '#fff', plot_bgcolor: '#fff', showlegend: false,
  margin: {l: 330, r: 82, t: 50, b: 250},
  xaxis: Object.assign({}, common, {
    range: [3.681, 6.595], anchor: 'y2', mirror: 'allticks',
    tickmode: 'array', tickvals: xTickVals, ticktext: xTickText, ticklabelstandoff: 0,
    minor: {ticks: 'inside', ticklen: 10, tickwidth: 2.5, tickcolor: '#000', tickvals: minorTicks(3, 6), showgrid: false},
  }),
  yaxis: Object.assign({}, common, {
    domain: [0.5, 1], range: [-4.828, -0.05], anchor: 'x', mirror: 'ticks',
    tickmode: 'array', tickvals: yTopTickVals, ticktext: yTopTickText, ticklabelstandoff: 10,
    minor: {ticks: 'inside', ticklen: 10, tickwidth: 2.5, tickcolor: '#000', tickvals: minorTicks(-5, -1), showgrid: false},
  }),
  yaxis2: Object.assign({}, common, {
    domain: [0, 0.5], range: [-4.305, 0.216], anchor: 'x', mirror: 'ticks',
    tickmode: 'array', tickvals: yBotTickVals, ticktext: yBotTickText, ticklabelstandoff: 10,
    minor: {ticks: 'inside', ticklen: 10, tickwidth: 2.5, tickcolor: '#000', tickvals: minorTicks(-5, 0), showgrid: false},
  }),
  annotations: [
    {xref: 'paper', yref: 'paper', x: 0.5, y: -0.0668, xanchor: 'center', yanchor: 'middle', showarrow: false,
     text: '<i>t</i> [yr]', font: {family: 'Liberation Serif', size: 94, color: '#000'}},
    {xref: 'paper', yref: 'paper', x: -0.0911, y: 0.75, xanchor: 'center', yanchor: 'middle', showarrow: false, textangle: -90,
     text: '<i>a</i><sub>b</sub> [au]', font: {family: 'Liberation Serif', size: 94, color: '#000'}},
    {xref: 'paper', yref: 'paper', x: -0.0851, y: 0.2545, xanchor: 'center', yanchor: 'middle', showarrow: false, textangle: -90,
     text: '<i>e</i><sub>b</sub>', font: {family: 'Liberation Serif', size: 94, color: '#000'}},
    {xref: 'paper', yref: 'paper', x: 0.0094, y: 0.4730, xanchor: 'left', yanchor: 'middle', showarrow: false,
     text: 'crossings : 147', font: {family: 'Liberation Serif', size: 75, color: '#808080'}},
    {xref: 'paper', yref: 'paper', x: 0.0094, y: 0.4262, xanchor: 'left', yanchor: 'middle', showarrow: false,
     text: 'captures : 59(59)', font: {family: 'Liberation Serif', size: 78, color: '#0000ff'}},
    {xref: 'paper', yref: 'paper', x: 0.0094, y: 0.3575, xanchor: 'left', yanchor: 'middle', showarrow: false,
     text: '<span style="font-size:100px">⟨</span><i>q</i><sub>b</sub><span style="font-size:100px">⟩</span><sub>evec</sub> : 0.0451',
     font: {family: 'Liberation Serif', size: 84, color: '#0000ff'}},
    {xref: 'paper', yref: 'paper', x: 0.031, y: 0.0668, xanchor: 'left', yanchor: 'middle', showarrow: false,
     text: '<i>M</i><sub>●</sub> = 5 × 10<sup>7</sup><i>M</i><sub>⊙</sub> , <i>M</i><sub>b</sub> = 5 × 10<sup>2</sup><i>M</i><sub>⊙</sub>',
     font: {family: 'Liberation Serif', size: 67, color: '#000'}},
    {xref: 'paper', yref: 'paper', x: 0.031, y: 0.0291, xanchor: 'left', yanchor: 'middle', showarrow: false,
     text: '<i>β</i><sub>mig</sub> = 4 × 10<sup>5</sup>', font: {family: 'Liberation Serif', size: 84, color: '#000'}},
    {xref: 'paper', yref: 'paper', x: 0.988, y: 0.543, xanchor: 'right', yanchor: 'middle', showarrow: false,
     text: '10<i>r</i><sub><i>g</i></sub>', font: {family: 'Liberation Serif', size: 60, color: '#808080'}},
  ],
};
Plotly.newPlot('chart', traces, layout, {staticPlot: true, displayModeBar: false});
</script>
</body></html>
